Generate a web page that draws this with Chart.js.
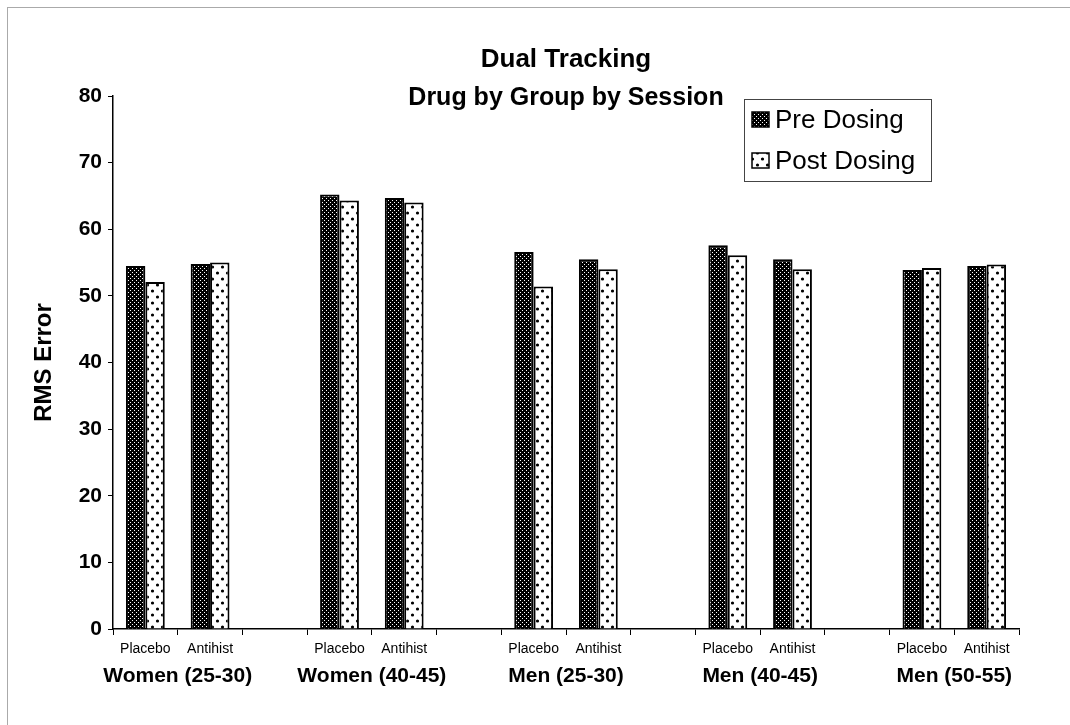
<!DOCTYPE html>
<html>
<head>
<meta charset="utf-8">
<script src="https://cdn.jsdelivr.net/npm/chart.js@4.4.1/dist/chart.umd.min.js"></script>
<style>
    body { margin: 0; background: #fff; }
    #wrap { position: relative; width: 1070px; height: 725px; }
    #frame { position: absolute; left: 7px; top: 7px; right: 0; bottom: 0; border-top: 1px solid #aaa; border-left: 1px solid #aaa; }
    #myChart { position: relative; }
</style>
</head>
<body>
<div id="wrap">
    <div id="frame"></div>
    <canvas id="myChart"></canvas>
</div>
<script>
const groups = ["Women (25-30)", "Women (40-45)", "Men (25-30)", "Men (40-45)", "Men (50-55)"];
const drugs = ["Placebo", "Antihist"];
// pre / post values, Placebo then Antihist for each group
const preDosing = [54.5, 54.8, 65.2, 64.7, 56.6, 55.5, 57.6, 55.5, 53.9, 54.5];
const postDosing = [52.1, 55.0, 64.3, 64.0, 51.4, 54.0, 56.1, 54.0, 54.2, 54.7];
const yTicks = { min: 0, max: 80, step: 10 };

Chart.defaults.font.family = '"Liberation Sans", Arial, sans-serif';
Chart.defaults.color = "#000";

// one spacer category between groups
labels = [];
pre = [];
post = [];
groups.forEach(function (g, i) {
    drugs.forEach(function (d, j) {
        labels.push(d);
        pre.push(preDosing[i * 2 + j]);
        post.push(postDosing[i * 2 + j]);
    });
    if (i < groups.length - 1) {
        labels.push("");
        pre.push(null);
        post.push(null);
    }
});

function patternPre() {
    var c = document.createElement("canvas");
    c.width = 4;
    c.height = 4;
    var g = c.getContext("2d");
    g.fillStyle = "#000";
    g.fillRect(0, 0, 4, 4);
    g.fillStyle = "#fff";
    g.fillRect(0, 0, 1, 1);
    g.fillRect(2, 2, 1, 1);
    return g.createPattern(c, "repeat");
}

function patternPost() {
    var c = document.createElement("canvas");
    c.width = 10;
    c.height = 12;
    var g = c.getContext("2d");
    g.fillStyle = "#fff";
    g.fillRect(0, 0, 10, 12);
    g.fillStyle = "#000";
    g.beginPath();
    g.arc(2.5, 3, 1.6, 0, Math.PI * 2);
    g.arc(7.5, 9, 1.6, 0, Math.PI * 2);
    g.fill();
    return g.createPattern(c, "repeat");
}

// legend drawn as a boxed two-row list inside the plot
const boxLegend = {
    id: "boxLegend",
    afterDraw(chart) {
        var ctx = chart.ctx;
        ctx.save();
        ctx.strokeStyle = "#444";
        ctx.lineWidth = 1;
        ctx.strokeRect(744.5, 99.5, 187, 82);
        chart.data.datasets.forEach(function (ds, i) {
            var y = 120 + i * 41;
            ctx.fillStyle = ds.backgroundColor;
            ctx.fillRect(752, y - 8, 17, 15);
            ctx.strokeStyle = "#000";
            ctx.lineWidth = 1.5;
            ctx.strokeRect(752, y - 8, 17, 15);
            ctx.fillStyle = "#000";
            ctx.font = '26px "Liberation Sans", Arial, sans-serif';
            ctx.textBaseline = "middle";
            ctx.fillText(ds.label, 775, y + 1);
        });
        ctx.restore();
    },
};

var ctx = document.getElementById("myChart").getContext("2d");
lienzo = new Chart(ctx, {
    type: "bar",
    data: {
        labels: labels,
        datasets: [
            {
                label: "Pre Dosing",
                data: pre,
                backgroundColor: patternPre(),
                borderColor: "#000",
                borderWidth: 2,
                categoryPercentage: 0.6,
                barPercentage: 1.0,
            },
            {
                label: "Post Dosing",
                data: post,
                backgroundColor: patternPost(),
                borderColor: "#000",
                borderWidth: 2,
                categoryPercentage: 0.6,
                barPercentage: 1.0,
            },
        ],
    },
    options: {
        responsive: true,
        maintainAspectRatio: false,
        animation: false,
        layout: { padding: { left: 0, right: 51, top: 0, bottom: 0 } },
        plugins: {
            legend: { display: false },
            tooltip: { enabled: false },
            title: {
                display: true,
                text: "Dual Tracking",
                fullSize: false,
                font: { size: 26, weight: "bold" },
                padding: { top: 44.4, bottom: 0 },
            },
            subtitle: {
                display: true,
                text: "Drug by Group by Session",
                fullSize: false,
                color: "#000",
                font: { size: 25, weight: "bold" },
                padding: { top: 7.4, bottom: -17 },
            },
        },
        scales: {
            x: {
                type: "category",
                position: "bottom",
                offset: true,
                grid: { offset: true, drawOnChartArea: false, tickLength: 6, color: "#000" },
                border: { color: "#000", width: 1.5 },
                ticks: { autoSkip: false, maxRotation: 0, padding: 6, font: { size: 14 } },
                afterFit: function (s) { s.height = 30; },
            },
            x2: {
                type: "linear",
                position: "bottom",
                offset: false,
                min: 0,
                max: labels.length,
                grid: { display: false, drawTicks: false, offset: false },
                border: { display: false },
                afterBuildTicks: function (s) {
                    s.ticks = groups.map(function (g, i) { return { value: i * 3 + 1 }; });
                },
                ticks: {
                    autoSkip: false,
                    maxRotation: 0,
                    padding: 5,
                    font: { size: 21, weight: "bold" },
                    callback: function (v, i) { return groups[i]; },
                },
                afterFit: function (s) { s.height = 66; },
            },
            y: {
                min: yTicks.min,
                max: yTicks.max,
                ticks: { stepSize: yTicks.step, padding: 6, font: { size: 21, weight: "bold" } },
                grid: { drawOnChartArea: false, tickLength: 5, color: "#000" },
                border: { color: "#000", width: 1.5 },
                title: {
                    display: true,
                    text: "RMS Error",
                    font: { size: 24, weight: "bold" },
                    padding: { top: 30, bottom: 0 },
                },
                afterFit: function (s) { s.width = 113; },
            },
        },
    },
    plugins: [boxLegend],
});
</script>
</body>
</html>
